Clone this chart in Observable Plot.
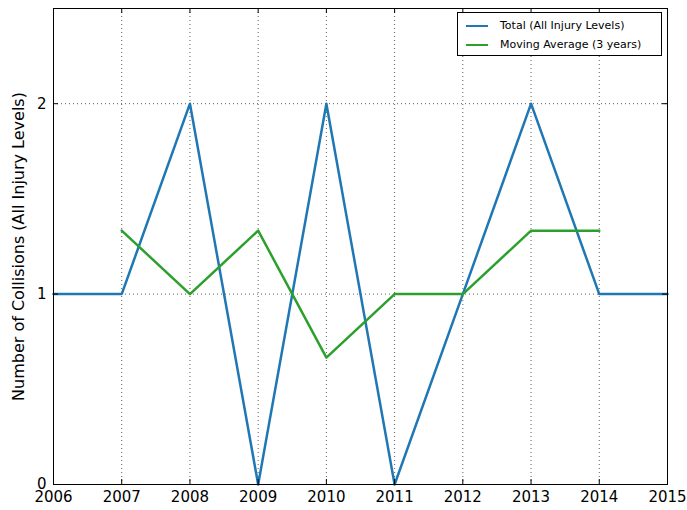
<!DOCTYPE html>
<html>
<head>
<meta charset="utf-8">
<script src="https://cdn.jsdelivr.net/npm/d3@7"></script>
<script src="https://cdn.jsdelivr.net/npm/@observablehq/plot@0.6"></script>
<style>
  html, body { margin: 0; padding: 0; background: #fff; }
  #wrap { position: relative; width: 687px; height: 510px; font-family: "DejaVu Sans", sans-serif; }
  #legend { position: absolute; left: 457px; top: 12px; width: 205px; height: 44px; border: 1px solid #000; background: #fff; font-size: 11px; box-sizing: border-box; padding: 3px 0 0 8px; }
  #legend .row { display: flex; align-items: center; height: 19px; }
  #legend .sw { width: 22px; height: 0; border-top: 2.5px solid; margin-right: 12px; }
</style>
</head>
<body>
<div id="wrap"><div id="legend"></div></div>
<script>
const years = [2006, 2007, 2008, 2009, 2010, 2011, 2012, 2013, 2014, 2015];
const totals = [1, 1, 2, 0, 2, 0, 1, 2, 1, 1];
const maYears = [2007, 2008, 2009, 2010, 2011, 2012, 2013, 2014];
const maValues = [1.3333, 1, 1.3333, 0.6667, 1, 1, 1.3333, 1.3333];
const yTicks = [0, 1, 2];
const yLabel = "Number of Collisions (All Injury Levels)";
const seriesNames = ["Total (All Injury Levels)", "Moving Average (3 years)"];
const colors = ["#1f77b4", "#2ca02c"];

const totalData = years.map((y, i) => ({year: y, value: totals[i]}));
const maData = maYears.map((y, i) => ({year: y, value: maValues[i]}));

const xDom = [2006, 2015], yDom = [0, 2.5];
const W = 687, H = 510, mL = 53, mR = 20, mT = 8, mB = 26;
const tx = 5 * (xDom[1] - xDom[0]) / (W - mL - mR);
const ty = 5 * (yDom[1] - yDom[0]) / (H - mT - mB);

const chart = Plot.plot({
  width: W, height: H,
  marginLeft: mL, marginRight: mR, marginTop: mT, marginBottom: mB,
  style: {fontFamily: "DejaVu Sans, sans-serif", fontSize: "15px", color: "#000", background: "transparent"},
  x: {domain: xDom, ticks: years, tickFormat: "d"},
  y: {domain: yDom, ticks: yTicks, tickFormat: "d"},
  marks: [
    Plot.ruleX(years, {x: d => d, stroke: "#000", strokeOpacity: 0.8, strokeWidth: 0.8, strokeDasharray: "1,3"}),
    Plot.ruleY(yTicks, {y: d => d, stroke: "#000", strokeOpacity: 0.8, strokeWidth: 0.8, strokeDasharray: "1,3"}),
    Plot.line(totalData, {x: "year", y: "value", stroke: colors[0], strokeWidth: 2.5}),
    Plot.line(maData, {x: "year", y: "value", stroke: colors[1], strokeWidth: 2.5}),
    Plot.ruleX(years, {x: d => d, y1: yDom[0], y2: yDom[0] + ty, stroke: "#000", strokeWidth: 1}),
    Plot.ruleX(years, {x: d => d, y1: yDom[1] - ty, y2: yDom[1], stroke: "#000", strokeWidth: 1}),
    Plot.ruleY(yTicks, {y: d => d, x1: xDom[0], x2: xDom[0] + tx, stroke: "#000", strokeWidth: 1}),
    Plot.ruleY(yTicks, {y: d => d, x1: xDom[1] - tx, x2: xDom[1], stroke: "#000", strokeWidth: 1}),
    Plot.frame({stroke: "#000", strokeWidth: 1}),
    Plot.axisX({ticks: years, tickFormat: "d", tickSize: 0, tickPadding: 7, fontSize: 15, label: null}),
    Plot.axisY({ticks: yTicks, tickFormat: "d", tickSize: 0, tickPadding: 7, fontSize: 15, label: null}),
    Plot.text([yLabel], {frameAnchor: "left", dx: -35, rotate: -90, textAnchor: "middle", fontSize: 16, text: d => d})
  ]
});
document.getElementById("wrap").prepend(chart);

const legend = document.getElementById("legend");
seriesNames.forEach((name, i) => {
  const row = document.createElement("div");
  row.className = "row";
  const sw = document.createElement("span");
  sw.className = "sw";
  sw.style.borderTopColor = colors[i];
  const t = document.createElement("span");
  t.textContent = name;
  row.appendChild(sw); row.appendChild(t);
  legend.appendChild(row);
});
</script>
</body>
</html>
